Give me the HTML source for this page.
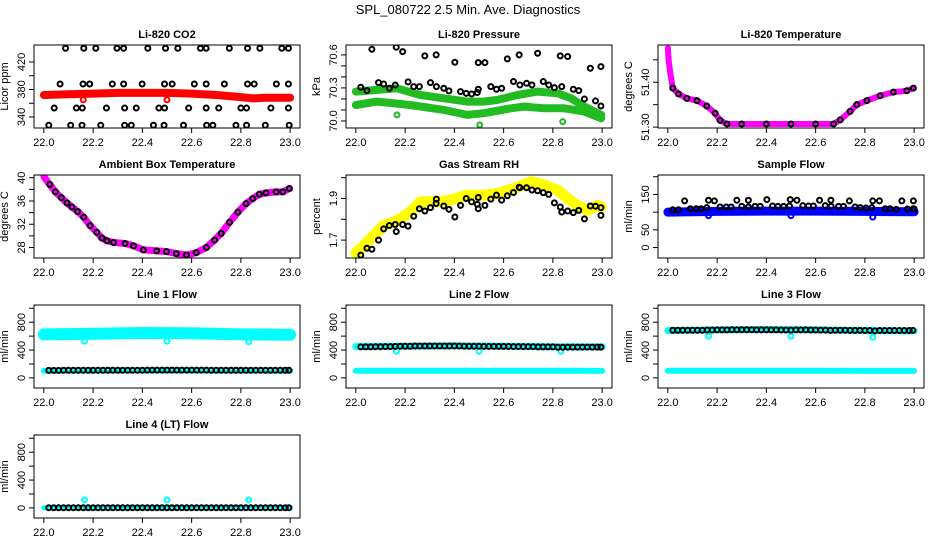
<!DOCTYPE html>
<html><head><meta charset="utf-8">
<style>
html,body{margin:0;padding:0;background:#fff;}
svg{display:block;font-family:"Liberation Sans",Arial,sans-serif;}
</style></head>
<body>
<svg id="chart" width="936" height="540" viewBox="0 0 936 540" xmlns="http://www.w3.org/2000/svg">
<rect width="936" height="540" fill="#fff"/>
<text x="468" y="14" text-anchor="middle" font-size="13">SPL_080722  2.5 Min. Ave. Diagnostics</text>
</svg>
<script>
// ---- shared data ----
const xTickValues = [22.0, 22.2, 22.4, 22.6, 22.8, 23.0];
const xTickLabels = ["22.0", "22.2", "22.4", "22.6", "22.8", "23.0"];

// CO2
const co2BandT = [22.0, 22.1, 22.2, 22.3, 22.4, 22.5, 22.6, 22.7, 22.8, 22.85, 22.9, 23.0];
const co2BandV = [372, 373, 374, 375, 375, 375, 374, 372, 369, 367, 368, 368];
const co2PtsT = [22.088,22.162,22.211,22.297,22.324,22.422,22.494,22.544,22.636,22.659,22.753,22.827,22.877,22.966,22.993,
 22.066,22.159,22.186,22.278,22.324,22.399,22.490,22.521,22.611,22.659,22.733,22.827,22.854,22.944,22.993,
 22.042,22.132,22.156,22.254,22.328,22.375,22.467,22.490,22.588,22.659,22.710,22.800,22.823,22.922,22.993,
 22.020,22.109,22.155,22.231,22.328,22.355,22.445,22.488,22.567,22.661,22.686,22.780,22.823,22.899,22.996];
const co2PtsV = [440,440,440,440,440,440,440,440,440,440,440,440,440,440,440,
 388,388,388,388,388,388,388,388,388,388,388,388,388,388,388,
 353,353,353,353,353,353,353,353,353,353,353,353,353,353,353,
 328,328,328,328,328,328,328,328,328,328,328,328,328,328,328];
const co2OutT = [22.16, 22.5];
const co2OutV = [365, 365];

// Pressure
const presUpT = [22.0,22.086,22.167,22.262,22.357,22.452,22.520,22.575,22.656,22.738,22.819,22.874,22.928,22.996];
const presUpV = [70.267,70.282,70.297,70.236,70.206,70.176,70.176,70.191,70.236,70.267,70.251,70.206,70.130,70.055];
const presLoT = [22.0,22.086,22.221,22.357,22.452,22.520,22.629,22.683,22.765,22.846,22.928,22.996];
const presLoV = [70.145,70.176,70.145,70.100,70.055,70.070,70.115,70.130,70.115,70.115,70.085,70.024];
const presPtsT = [22.020,22.045,22.065,22.092,22.113,22.136,22.160,22.164,22.190,22.212,22.235,22.258,22.280,22.303,22.326,22.327,22.357,22.378,22.402,22.425,22.448,22.470,22.493,22.497,22.497,22.524,22.548,22.571,22.592,22.615,22.640,22.663,22.666,22.693,22.715,22.738,22.761,22.783,22.806,22.830,22.836,22.860,22.883,22.905,22.928,22.952,22.973,22.995,22.995];
const presPtsV = [70.306,70.276,70.651,70.348,70.336,70.297,70.327,70.670,70.630,70.355,70.312,70.312,70.591,70.348,70.600,70.312,70.297,70.273,70.533,70.267,70.251,70.245,70.258,70.288,70.530,70.530,70.312,70.288,70.297,70.564,70.358,70.600,70.327,70.342,70.327,70.615,70.358,70.327,70.303,70.591,70.312,70.585,70.288,70.276,70.200,70.479,70.182,70.494,70.136];
const presOutT = [22.167, 22.503, 22.840];
const presOutV = [70.055, 69.964, 69.994];

// Li-820 temperature
const ltT = [22.0,22.003,22.01,22.02,22.043,22.077,22.118,22.158,22.192,22.212,22.24,22.3,22.4,22.5,22.6,22.673,22.70,22.74,22.767,22.808,22.862,22.916,22.97,22.997];
const ltV = [51.476,51.450,51.420,51.387,51.374,51.364,51.359,51.347,51.331,51.315,51.307,51.307,51.307,51.307,51.307,51.307,51.316,51.335,51.350,51.359,51.370,51.378,51.381,51.387];

// Ambient temperature
const abT = [22.0,22.024,22.047,22.071,22.094,22.114,22.137,22.162,22.188,22.215,22.236,22.256,22.283,22.33,22.364,22.404,22.458,22.498,22.538,22.579,22.619,22.66,22.693,22.72,22.754,22.788,22.821,22.848,22.875,22.902,22.943,22.97,22.997];
const abV = [40.17,38.84,37.56,36.58,35.65,34.96,34.2,33.22,31.77,30.61,29.62,29.16,28.87,28.7,28.29,27.6,27.42,27.3,26.96,26.72,27.13,28.0,29.28,30.43,32.35,34.09,35.54,36.41,37.16,37.39,37.57,37.57,38.14];

// RH
const rhBandT = [22.0,22.031,22.072,22.113,22.167,22.221,22.262,22.33,22.384,22.452,22.52,22.575,22.643,22.711,22.765,22.819,22.86,22.9,22.942,22.982,22.996];
const rhBandV = [1.64,1.672,1.721,1.77,1.794,1.835,1.884,1.884,1.892,1.916,1.916,1.924,1.949,1.981,1.965,1.941,1.90,1.867,1.843,1.867,1.859];
const rhPtsT = presPtsT;
const rhPtsV = [1.628,1.661,1.656,1.700,1.754,1.770,1.775,1.741,1.775,1.767,1.815,1.851,1.840,1.856,1.876,1.897,1.864,1.848,1.811,1.867,1.900,1.884,1.872,1.905,1.851,1.867,1.897,1.916,1.892,1.913,1.929,1.954,1.952,1.952,1.941,1.937,1.928,1.920,1.879,1.859,1.835,1.840,1.832,1.843,1.802,1.864,1.863,1.819,1.856];

// Sample flow
const sfBandT = [22.0, 22.2, 22.4, 22.6, 22.8, 23.0];
const sfBandV = [100, 102, 103, 103, 102, 101];
const sfPtsT = [22.02,22.043,22.068,22.091,22.115,22.135,22.158,22.165,22.189,22.212,22.237,22.257,22.280,22.300,22.327,22.327,22.354,22.375,22.402,22.425,22.447,22.470,22.494,22.497,22.524,22.548,22.571,22.591,22.616,22.639,22.662,22.663,22.693,22.713,22.737,22.760,22.781,22.804,22.828,22.832,22.859,22.882,22.902,22.927,22.950,22.973,22.997,22.997,23.0];
const sfPtsV = [106.8,106.8,131.7,109.7,109.7,109.7,112.6,133.6,131.7,114.5,114.5,114.5,133.6,116.4,133.6,114.5,116.4,116.4,135.5,117.3,116.4,116.4,117.3,135.5,133.6,118.3,117.3,117.3,133.6,118.3,133.6,116.4,116.4,116.4,131.7,114.5,112.6,111.6,112.6,131.7,131.7,109.7,109.7,107.8,131.7,108.8,131.7,109.7,108.8];
const sfOutT = [22.165, 22.5, 22.832];
const sfOutV = [90, 90, 86];

// Line flows
const avgT = [22.02,22.04,22.06,22.08,22.10,22.12,22.14,22.16,22.18,22.20,22.22,22.24,22.26,22.28,22.30,22.32,22.34,22.36,22.38,22.40,22.42,22.44,22.46,22.48,22.50,22.52,22.54,22.56,22.58,22.60,22.62,22.64,22.66,22.68,22.70,22.72,22.74,22.76,22.78,22.80,22.82,22.84,22.86,22.88,22.90,22.92,22.94,22.96,22.98,22.995];
const flowBandT = [22.0, 22.2, 22.4, 22.6, 22.8, 23.0];
const line1HiV = [625, 635, 645, 640, 625, 620];
const line1LoV = [102, 104, 106, 106, 104, 104];
const line1PtsV = [108,108,108,110,110,110,110,110,110,110,110,110,110,110,110,110,110,110,110,110,112,112,112,112,112,112,112,112,112,112,112,112,112,110,110,110,110,110,110,110,110,110,110,110,110,110,110,110,110,110];
const line2HiV = [450, 455, 460, 455, 448, 445];
const line2LoV = [102, 103, 103, 102, 102, 101];
const line2PtsV = [445,445,445,448,448,450,450,452,455,455,455,458,458,458,458,458,458,458,458,458,458,455,455,455,455,452,452,452,452,452,452,450,450,450,448,448,445,445,445,445,440,440,442,442,442,442,442,442,442,442];
const line3HiV = [680, 690, 695, 690, 680, 675];
const line3LoV = [102, 103, 103, 102, 100, 100];
const line3PtsV = [684,684,684,684,684,684,684,688,688,690,690,690,692,692,692,692,692,690,690,690,690,690,688,688,686,690,690,690,688,688,686,686,682,684,684,684,682,682,682,680,680,676,680,680,680,680,680,680,680,682];
const line4V = [2, 2, 2, 2, 2, 2];
const line4PtsV = [2,2,2,2,2,2,2,2,2,2,2,2,2,2,2,2,2,2,2,2,2,2,2,2,2,2,2,2,2,2,2,2,2,2,2,2,2,2,2,2,2,2,2,2,2,2,2,2,2,2];
const flowOutT = [22.165, 22.5, 22.832];
const line1OutV = [528, 528, 520];
const line2OutV = [383, 383, 383];
const line3OutV = [600, 600, 585];
const line4OutV = [116, 116, 116];

// ---- drawing ----
const NS = "http://www.w3.org/2000/svg";
const svg = document.getElementById("chart");
const colLeft = [34, 346, 658], rowTop = [45, 175, 305, 435], BW = 266, BH = 83;
const flowTicks = [0,200,400,600,800,1000], flowLabels = {0:"0",400:"400",800:"800"};

function mk(tag, parent, attrs) {
  const e = document.createElementNS(NS, tag);
  for (const k in attrs) e.setAttribute(k, attrs[k]);
  parent.appendChild(e);
  return e;
}

function panel(id, col, row, title, ylab, ylim, yTicks, yLabels, layers) {
  const L = colLeft[col], T = rowTop[row];
  const g = mk("g", svg, {});
  
  
  const xs = t => L + (t - 21.96) / 1.08 * BW;
  const ys = v => T + BH - (v - ylim[0]) / (ylim[1] - ylim[0]) * BH;
  const tt = mk("text", g, {x: L + BW/2, y: T - 7, "text-anchor": "middle", "font-size": 11, "font-weight": "bold"});
  tt.textContent = title;
  
  
  const yt = mk("text", g, {x: 0, y: 0, "text-anchor": "middle", "font-size": 11, transform: `translate(${L-26},${T+BH/2}) rotate(-90)`});
  yt.textContent = ylab;
  
  
  xTickValues.forEach((v, i) => {
    const x = xs(v);
    mk("line", g, {x1: x, x2: x, y1: T+BH, y2: T+BH+5, stroke: "#000"});
    const lb = mk("text", g, {x: x, y: T+BH+18, "text-anchor": "middle", "font-size": 11});
    lb.textContent = xTickLabels[i];
    
    
  });
  yTicks.forEach(v => {
    const y = ys(v);
    mk("line", g, {x1: L-5, x2: L, y1: y, y2: y, stroke: "#000"});
    if (yLabels[v] !== undefined) {
      const lb = mk("text", g, {x: 0, y: 0, "text-anchor": "middle", "font-size": 11, transform: `translate(${L-9},${y}) rotate(-90)`});
      lb.textContent = yLabels[v];
      
      
    }
  });
  const clipId = "c" + id;
  const cp = mk("clipPath", g, {id: clipId});
  mk("rect", cp, {x: L, y: T, width: BW, height: BH});
  const dg = mk("g", g, {"clip-path": `url(#${clipId})`});
  layers.forEach(ly => {
    if (ly.type === "band") {
      const d = ly.t.map((t, i) => (i ? "L" : "M") + xs(t).toFixed(1) + "," + ys(ly.v[i]).toFixed(1)).join("");
      const p = mk("path", dg, {d: d, fill: "none", stroke: ly.color, "stroke-width": ly.w, "stroke-linejoin": "round", "stroke-linecap": "round"});
      
      
    } else {
      ly.t.forEach((t, i) => {
        const c = mk("circle", dg, {cx: xs(t), cy: ys(ly.v[i]), r: 2.5, fill: "none", stroke: ly.color, "stroke-width": 2});
        
        
      });
    }
  });
  const box = mk("rect", g, {x: L, y: T, width: BW, height: BH, fill: "none", stroke: "#000", "stroke-width": 1});
  
  
}

panel("co2", 0, 0, "Li-820 CO2", "Licor ppm", [324, 444.7], [340,360,380,400,420], {340:"340",380:"380",420:"420"}, [
  {type:"band", t:co2BandT, v:co2BandV, color:"#ff0000", w:8, name:"co2-band"},
  {type:"pts", t:co2OutT, v:co2OutV, color:"#ff0000", name:"co2-outlier"},
  {type:"pts", t:co2PtsT, v:co2PtsV, color:"#000", name:"co2-average-point"}]);

panel("pressure", 1, 0, "Li-820 Pressure", "kPa", [69.936, 70.69], [70.0,70.1,70.2,70.3,70.4,70.5,70.6], {"70":"70.0","70.3":"70.3","70.6":"70.6"}, [
  {type:"band", t:presUpT, v:presUpV, color:"#22bb22", w:8, name:"pressure-band-upper"},
  {type:"band", t:presLoT, v:presLoV, color:"#22bb22", w:8, name:"pressure-band-lower"},
  {type:"pts", t:presOutT, v:presOutV, color:"#22bb22", name:"pressure-outlier"},
  {type:"pts", t:presPtsT, v:presPtsV, color:"#000", name:"pressure-average-point"}]);

panel("li820temp", 2, 0, "Li-820 Temperature", "degrees C", [51.298, 51.483], [51.30,51.35,51.40,51.45], {"51.3":"51.30","51.4":"51.40"}, [
  {type:"band", t:ltT, v:ltV, color:"#ff00ff", w:6, name:"li820-temp-band"},
  {type:"pts", t:ltT.slice(3), v:ltV.slice(3), color:"#000", name:"li820-temp-average-point"}]);

panel("ambient", 0, 1, "Ambient Box Temperature", "degrees C", [26.2, 40.47], [28,30,32,34,36,38,40], {28:"28",32:"32",36:"36",40:"40"}, [
  {type:"band", t:abT, v:abV, color:"#ff00ff", w:7, name:"ambient-band"},
  {type:"pts", t:abT.slice(1), v:abV.slice(1), color:"#000", name:"ambient-average-point"}]);

panel("rh", 1, 1, "Gas Stream RH", "percent", [1.614, 2.013], [1.7,1.8,1.9,2.0], {"1.7":"1.7","1.9":"1.9"}, [
  {type:"band", t:rhBandT, v:rhBandV, color:"#ffff00", w:11, name:"rh-band"},
  {type:"pts", t:rhPtsT, v:rhPtsV, color:"#000", name:"rh-average-point"}]);

panel("sampleflow", 2, 1, "Sample Flow", "ml/min", [-29.5, 204.9], [0,50,100,150,200], {0:"0",50:"50",150:"150"}, [
  {type:"band", t:sfBandT, v:sfBandV, color:"#0000ff", w:9, name:"sample-flow-band"},
  {type:"pts", t:sfOutT, v:sfOutV, color:"#0000ff", name:"sample-flow-outlier"},
  {type:"pts", t:sfPtsT, v:sfPtsV, color:"#000", name:"sample-flow-average-point"}]);

const flowYlim = [-145, 1047];
panel("line1", 0, 2, "Line 1 Flow", "ml/min", flowYlim, flowTicks, flowLabels, [
  {type:"band", t:flowBandT, v:line1HiV, color:"#00ffff", w:12, name:"line1-band-high"},
  {type:"band", t:flowBandT, v:line1LoV, color:"#00ffff", w:6, name:"line1-band-low"},
  {type:"pts", t:flowOutT, v:line1OutV, color:"#00ffff", name:"line1-outlier"},
  {type:"pts", t:avgT, v:line1PtsV, color:"#000", name:"line1-average-point"}]);
panel("line2", 1, 2, "Line 2 Flow", "ml/min", flowYlim, flowTicks, flowLabels, [
  {type:"band", t:flowBandT, v:line2HiV, color:"#00ffff", w:7, name:"line2-band-high"},
  {type:"band", t:flowBandT, v:line2LoV, color:"#00ffff", w:6, name:"line2-band-low"},
  {type:"pts", t:flowOutT, v:line2OutV, color:"#00ffff", name:"line2-outlier"},
  {type:"pts", t:avgT, v:line2PtsV, color:"#000", name:"line2-average-point"}]);
panel("line3", 2, 2, "Line 3 Flow", "ml/min", flowYlim, flowTicks, flowLabels, [
  {type:"band", t:flowBandT, v:line3HiV, color:"#00ffff", w:7, name:"line3-band-high"},
  {type:"band", t:flowBandT, v:line3LoV, color:"#00ffff", w:6, name:"line3-band-low"},
  {type:"pts", t:flowOutT, v:line3OutV, color:"#00ffff", name:"line3-outlier"},
  {type:"pts", t:avgT, v:line3PtsV, color:"#000", name:"line3-average-point"}]);
panel("line4", 0, 3, "Line 4 (LT) Flow", "ml/min", flowYlim, flowTicks, flowLabels, [
  {type:"band", t:flowBandT, v:line4V, color:"#00ffff", w:5, name:"line4-band"},
  {type:"pts", t:flowOutT, v:line4OutV, color:"#00ffff", name:"line4-outlier"},
  {type:"pts", t:avgT, v:line4PtsV, color:"#000", name:"line4-average-point"}]);
</script>
</body></html>
